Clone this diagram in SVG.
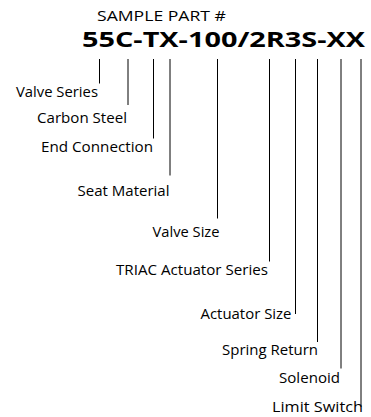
<svg xmlns="http://www.w3.org/2000/svg" width="371" height="417" viewBox="0 0 371 417">
<style>
text{font-family:"Open Sans","Noto Sans","Liberation Sans",sans-serif;fill:#000}
.lbl{font-size:14px;text-anchor:end}
.ttl{font-size:15px}
.pn{font-size:21px;font-weight:bold}
#connectors line{stroke:#000;stroke-width:1}
</style>
<rect width="371" height="417" fill="#fff"/>
<g id="title"><text class="ttl" x="97" y="20.7" textLength="129" lengthAdjust="spacingAndGlyphs">SAMPLE PART #</text></g>
<g id="part-number"><text class="pn" x="82" y="46.7" textLength="283" lengthAdjust="spacingAndGlyphs">55C-TX-100/2R3S-XX</text></g>
<g id="connectors">
<line x1="99.5" y1="59" x2="99.5" y2="83.5"/>
<line x1="128" y1="59" x2="128" y2="105"/>
<line x1="153.5" y1="59" x2="153.5" y2="138.5"/>
<line x1="170" y1="59" x2="170" y2="175.5"/>
<line x1="217.5" y1="59" x2="217.5" y2="218.5"/>
<line x1="269.5" y1="59" x2="269.5" y2="261.5"/>
<line x1="295.5" y1="59" x2="295.5" y2="314"/>
<line x1="317.5" y1="59" x2="317.5" y2="342"/>
<line x1="341" y1="59" x2="341" y2="368.5"/>
<line x1="361" y1="59" x2="361" y2="407"/>
</g>
<g id="valve-series"><text class="lbl" x="98" y="97" textLength="82" lengthAdjust="spacingAndGlyphs">Valve Series</text></g>
<g id="carbon-steel"><text class="lbl" x="127" y="122.7" textLength="90" lengthAdjust="spacingAndGlyphs">Carbon Steel</text></g>
<g id="end-connection"><text class="lbl" x="153" y="151.7" textLength="112" lengthAdjust="spacingAndGlyphs">End Connection</text></g>
<g id="seat-material"><text class="lbl" x="169.5" y="195.5" textLength="92" lengthAdjust="spacingAndGlyphs">Seat Material</text></g>
<g id="valve-size"><text class="lbl" x="219.5" y="236.7" textLength="67" lengthAdjust="spacingAndGlyphs">Valve Size</text></g>
<g id="triac-actuator-series"><text class="lbl" x="268" y="275" textLength="152" lengthAdjust="spacingAndGlyphs">TRIAC Actuator Series</text></g>
<g id="actuator-size"><text class="lbl" x="291.5" y="319.3" textLength="91" lengthAdjust="spacingAndGlyphs">Actuator Size</text></g>
<g id="spring-return"><text class="lbl" x="318" y="355" textLength="96" lengthAdjust="spacingAndGlyphs">Spring Return</text></g>
<g id="solenoid"><text class="lbl" x="340" y="383.3" textLength="61" lengthAdjust="spacingAndGlyphs">Solenoid</text></g>
<g id="limit-switch"><text class="lbl" x="363" y="411.7" textLength="91" lengthAdjust="spacingAndGlyphs">Limit Switch</text></g>
</svg>
